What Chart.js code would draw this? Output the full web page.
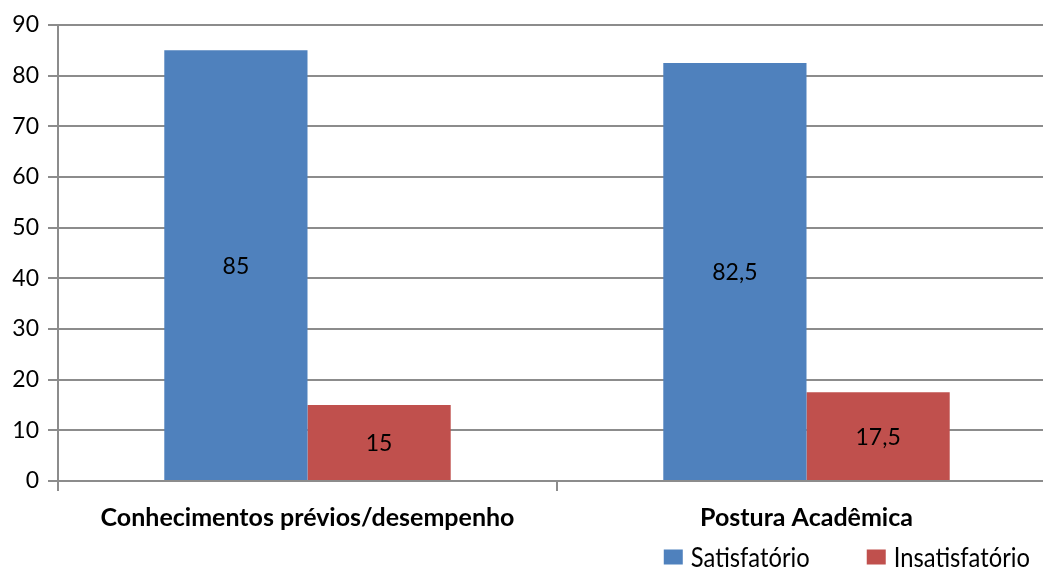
<!DOCTYPE html>
<html>
<head>
<meta charset="utf-8">
<script src="https://cdn.jsdelivr.net/npm/chart.js@4/dist/chart.umd.min.js"></script>
<style>
  html, body { margin: 0; padding: 0; background: #fff; overflow: hidden; }
  #wrap { width: 1043px; height: 572px; overflow: hidden; }
  canvas { display: block; }
</style>
</head>
<body>
<div id="wrap"><canvas id="c" width="1056" height="572"></canvas></div>
<script>
const categories = ["Conhecimentos prévios/desempenho", "Postura Acadêmica"];
const satisfatorio = [85, 82.5];
const insatisfatorio = [15, 17.5];
const yTicks = [0, 10, 20, 30, 40, 50, 60, 70, 80, 90];

const GRID = "#8c8c8c";
const fmt = v => String(v).replace(".", ",");

// Writes each bar's value in the middle of the bar
const barValues = {
  id: "barValues",
  afterDatasetsDraw(chart) {
    const ctx = chart.ctx;
    ctx.save();
    ctx.font = "23px Lato";
    ctx.fillStyle = "#000";
    ctx.textAlign = "center";
    ctx.textBaseline = "middle";
    chart.data.datasets.forEach((ds, i) => {
      chart.getDatasetMeta(i).data.forEach((bar, j) => {
        ctx.fillText(fmt(ds.data[j]), bar.x, (bar.y + bar.base) / 2 + 1);
      });
    });
    ctx.restore();
  }
};

// Compact legend in the bottom-right corner with narrow lettering
const narrowLegend = {
  id: "narrowLegend",
  afterDraw(chart) {
    const ctx = chart.ctx;
    const squeeze = 0.88;
    const boxW = 19, boxH = 15, gap = 8, itemGap = 57;
    const right = chart.width - 26;
    const midY = 557;
    ctx.save();
    ctx.font = "27px Lato";
    ctx.textBaseline = "middle";
    const items = chart.data.datasets.map(ds => ({
      text: ds.label,
      color: ds.backgroundColor,
      w: ctx.measureText(ds.label).width * squeeze
    }));
    const total = items.reduce((s, it) => s + boxW + gap + it.w, 0) + itemGap * (items.length - 1);
    let x = right - total;
    items.forEach(it => {
      ctx.fillStyle = it.color;
      ctx.fillRect(x, midY - boxH / 2, boxW, boxH);
      x += boxW + gap;
      ctx.save();
      ctx.translate(x, midY + 1);
      ctx.scale(squeeze, 1);
      ctx.fillStyle = "#000";
      ctx.textAlign = "left";
      ctx.fillText(it.text, 0, 0);
      ctx.restore();
      x += it.w + itemGap;
    });
    ctx.restore();
  }
};

new Chart(document.getElementById("c"), {
  type: "bar",
  data: {
    labels: categories,
    datasets: [
      { label: "Satisfatório", data: satisfatorio, backgroundColor: "#4F81BD" },
      { label: "Insatisfatório", data: insatisfatorio, backgroundColor: "#C0504D" }
    ]
  },
  options: {
    responsive: false,
    animation: false,
    layout: { padding: { top: 25, right: 0, left: 0, bottom: 41 } },
    datasets: { bar: { categoryPercentage: 0.574, barPercentage: 1.0 } },
    plugins: {
      tooltip: { enabled: false },
      legend: { display: false }
    },
    scales: {
      x: {
        offset: true,
        grid: {
          offset: true,
          drawOnChartArea: false,
          drawTicks: true,
          tickLength: 10,
          color: GRID,
          lineWidth: 2
        },
        border: { display: true, color: GRID, width: 2 },
        ticks: {
          font: { family: "Lato", size: 25, weight: "bold" },
          color: "#000",
          padding: 12,
          maxRotation: 0
        },
        afterFit(scale) { scale.height = 50; }
      },
      y: {
        min: 0,
        max: 90,
        afterBuildTicks(scale) { scale.ticks = yTicks.map(v => ({ value: v })); },
        grid: {
          color: GRID,
          lineWidth: 2,
          drawTicks: true,
          tickLength: 10
        },
        border: { display: true, color: GRID, width: 2 },
        ticks: {
          font: { family: "Lato", size: 23 },
          color: "#000",
          padding: 9
        },
        afterFit(scale) { scale.width = 58; }
      }
    }
  },
  plugins: [barValues, narrowLegend]
});
</script>
</body>
</html>
